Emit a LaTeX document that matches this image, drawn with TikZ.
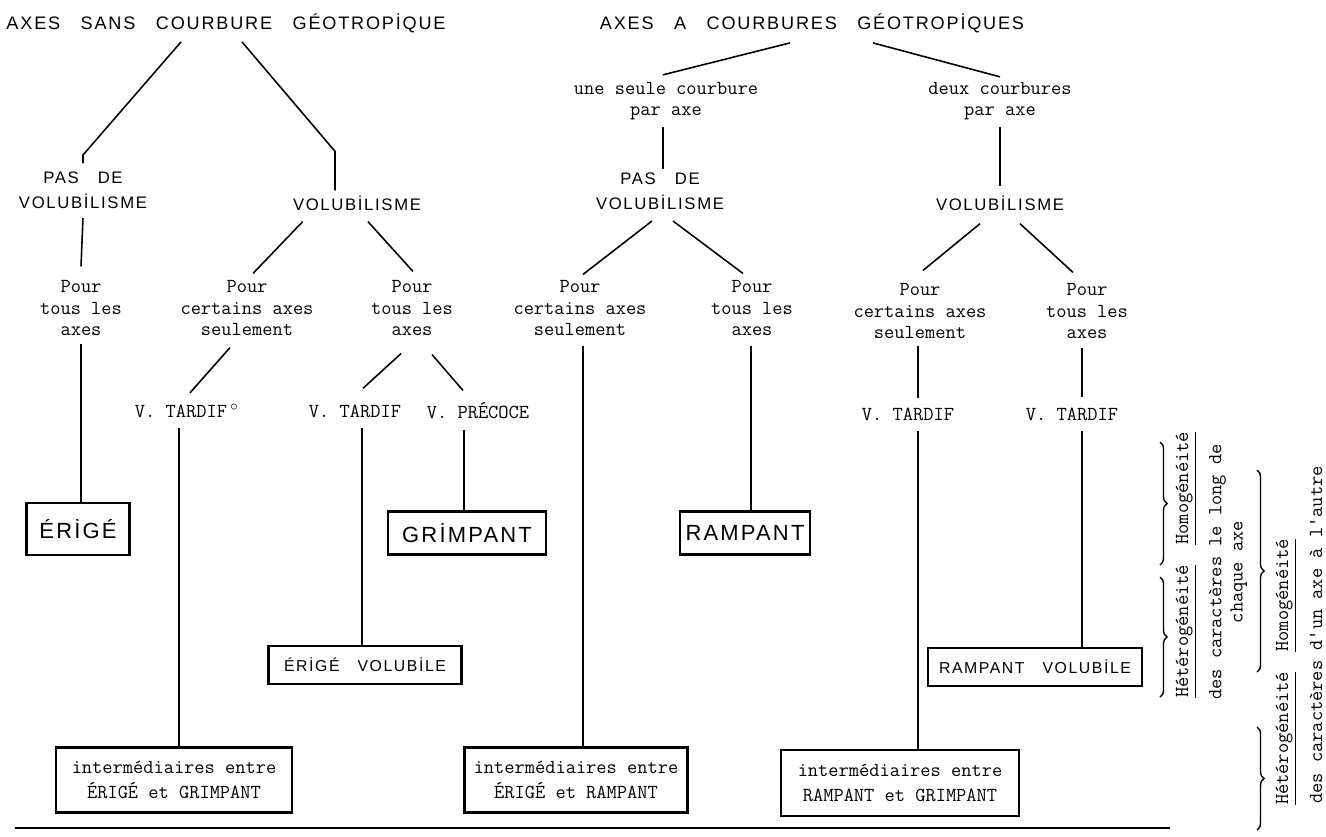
\documentclass[tikz,border=0pt]{standalone}
\usepackage{fontspec}
\newfontfamily\lettrage[LetterSpace=10,WordSpace=3]{Liberation Sans}
\usetikzlibrary{calc,decorations.pathreplacing}
\tikzset{
  machine/.style={font=\fontsize{11.3}{12}\selectfont\ttfamily,align=center,inner sep=0pt},
  lettre/.style={font=\fontsize{#1}{14.5}\selectfont\lettrage,align=center,inner sep=0pt},
  lettre/.default=9.5,
  cadre/.style={draw,line width=1.2pt},
  trait/.style={line width=0.9pt},
  accolade/.style={decorate,decoration={brace,amplitude=4pt},line width=0.8pt}
}
\begin{document}
\begin{tikzpicture}[x=0.02cm,y=-0.02cm]
\useasboundingbox (0,0) rectangle (1326,836);
%% axes sans courbure
\node[lettre=10.3] (titreG) at (226,23) {AXES SANS COURBURE GÉOTROPİQUE};
\node[lettre] (pasG) at (83,190) {PAS DE\\VOLUBİLISME};
\node[lettre] (volG) at (357,203) {VOLUBİLISME};
\node[machine] (tousG) at (81,308) {Pour\\tous les\\axes};
\node[machine] (certV) at (247,308) {Pour\\certains axes\\seulement};
\node[machine] (tousV) at (412,308) {Pour\\tous les\\axes};
\node[machine] (tardV1) at (181,411) {V. TARDIF\rlap{\,$^{\circ}$}};
\node[machine] (tardV2) at (355,411) {V. TARDIF};
\node[machine] (precV) at (478,411) {V. PRÉCOCE};
\node[cadre,lettre=12.5,minimum width=2.06cm,minimum height=1.04cm] (erige) at (78,529) {ÉRİGÉ};
\node[cadre,lettre=12.5,minimum width=3.16cm,minimum height=0.86cm] (grimp) at (467,533) {GRİMPANT};
\node[cadre,lettre=9,minimum width=3.86cm,minimum height=0.76cm] (erVol) at (365,665) {ÉRİGÉ VOLUBİLE};
\node[cadre,machine,minimum width=4.72cm,minimum height=1.3cm] (interEG) at (174,780) {intermédiaires entre\\[2pt]ÉRIGÉ et GRIMPANT};
%% branches
\draw[trait] ($(titreG.south)+(-45,9)$) -- ($(pasG.north)+(0,-16)$) -- ($(pasG.north)+(0,-8)$);
\draw[trait] ($(titreG.south)+(16,9)$) -- ($(volG.north)+(-22,-44)$) -- ($(volG.north)+(-22,-5)$);
\draw[trait] ($(pasG.south)+(0,9)$) -- ($(tousG.north)+(0,-14)$);
\draw[trait] ($(tousG.south)+(0,8)$) -- (tousG.south |- erige.north);
\draw[trait] ($(volG.south west)+(10,11)$) -- ($(certV.north)+(6,-7)$);
\draw[trait] ($(volG.south)+(11,11)$) -- ($(tousV.north)+(1,-9)$);
\draw[trait] ($(certV.south)+(-17,12)$) -- ($(tardV1.north)+(9,-11)$);
\draw[trait] ($(tousV.south)+(-11,18)$) -- ($(tardV2.north)+(8,-16)$);
\draw[trait] ($(tousV.south)+(20,19)$) -- ($(precV.north)+(-15,-12)$);
\draw[trait] ($(tardV1.south)+(-2,10)$) -- ($(tardV1.south |- interEG.north)+(-2,0)$);
\draw[trait] ($(tardV2.south)+(7,10)$) -- ($(tardV2.south |- erVol.north)+(7,0)$);
\draw[trait] ($(precV.south)+(-14,10)$) -- ($(precV.south |- grimp.north)+(-14,0)$);
%% axes a courbures
\node[lettre=10.3] (titreD) at (812,23) {AXES A COURBURES GÉOTROPİQUES};
\node[machine] (uneC) at (666,101) {une seule courbure\\par axe};
\node[machine] (deuxC) at (1000,101) {deux courbures\\par axe};
\node[lettre] (pasD) at (660,191) {PAS DE\\VOLUBİLISME};
\node[lettre] (volD) at (1000,203) {VOLUBİLISME};
\node[machine] (certP) at (580,308) {Pour\\certains axes\\seulement};
\node[machine] (tousP) at (752,308) {Pour\\tous les\\axes};
\node[machine] (certD) at (920,311) {Pour\\certains axes\\seulement};
\node[machine] (tousD) at (1087,311) {Pour\\tous les\\axes};
\node[machine] (tardD1) at (908,414) {V. TARDIF};
\node[machine] (tardD2) at (1072,414) {V. TARDIF};
\node[cadre,lettre=12.5,minimum width=2.6cm,minimum height=0.86cm] (ramp) at (745,533) {RAMPANT};
\node[cadre,lettre=9,minimum width=4.28cm,minimum height=0.76cm] (rpVol) at (1035,667) {RAMPANT VOLUBİLE};
\node[cadre,machine,minimum width=4.46cm,minimum height=1.3cm] (interER) at (576,780) {intermédiaires entre\\[2pt]ÉRIGÉ et RAMPANT};
\node[cadre,machine,minimum width=4.76cm,minimum height=1.32cm] (interRG) at (900,783) {intermédiaires entre\\[2pt]RAMPANT et GRIMPANT};
%% branches
\draw[trait] ($(titreD.south)+(-22,10)$) -- ($(uneC.north)+(-3,-7)$);
\draw[trait] ($(titreD.south)+(61,10)$) -- ($(deuxC.north)+(0,-5)$);
\draw[trait] ($(uneC.south)+(-3,7)$) -- ($(pasD.north)+(3,-3)$);
\draw[trait] ($(deuxC.south)+(0,7)$) -- ($(volD.north)+(0,-9)$);
\draw[trait] ($(pasD.south)+(-8,11)$) -- ($(certP.north)+(3,-6)$);
\draw[trait] ($(pasD.south)+(13,11)$) -- ($(tousP.north)+(-9,-7)$);
\draw[trait] ($(volD.south)+(-20,13)$) -- ($(certD.north)+(3,-13)$);
\draw[trait] ($(volD.south)+(20,13)$) -- ($(tousD.north)+(-14,-11)$);
\draw[trait] ($(certP.south)+(3,10)$) -- ($(certP.south |- interER.north)+(3,0)$);
\draw[trait] ($(tousP.south)+(-1,10)$) -- ($(tousP.south |- ramp.north)+(-1,0)$);
\draw[trait] ($(certD.south)+(-2,7)$) -- ($(certD.south |- tardD1.north)+(-2,-9)$);
\draw[trait] ($(tousD.south)+(-5,9)$) -- ($(tousD.south |- tardD2.north)+(-5,-10)$);
\draw[trait] ($(tardD1.south)+(10,10)$) -- ($(tardD1.south |- interRG.north)+(10,0)$);
\draw[trait] ($(tardD2.south)+(10,10)$) -- ($(tardD2.south |- rpVol.north)+(10,0)$);
%% caracteres
\node[machine,rotate=90] (homA) at (1186,565) {\underline{Hétérogénéité}\ \ \underline{Homogénéité}};
\node[machine,rotate=90] (carA) at (1228,572) {des caractères le long de\\chaque axe};
\node[machine,rotate=90] (homB) at (1286,672) {\underline{Hétérogénéité}\ \ \underline{Homogénéité}};
\node[machine,rotate=90] (carB) at (1316,635) {des caractères d'un axe à l'autre};
\draw[accolade] (1160,442) -- (1160,565);
\draw[accolade] (1160,577) -- (1160,697);
\draw[accolade] (1257,470) -- (1257,672);
\draw[accolade] (1257,727) -- (1257,830);
%% base
\draw[trait] (15,828) -- (1170,828);
\end{tikzpicture}
\end{document}
